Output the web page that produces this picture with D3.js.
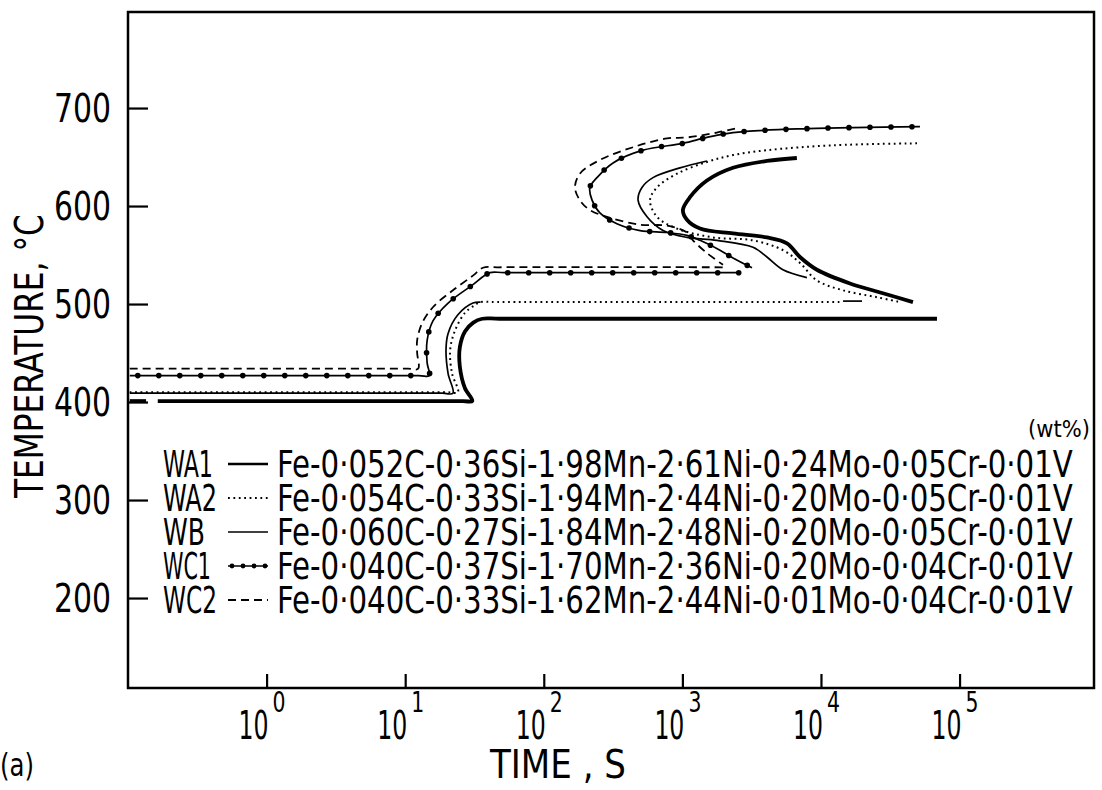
<!DOCTYPE html>
<html>
<head>
<meta charset="utf-8">
<script src="https://cdn.jsdelivr.net/npm/d3@7"></script>
<style>
  body { margin: 0; background: #fff; }
  text { font-family: "DejaVu Sans Condensed", "DejaVu Sans", sans-serif; fill: #000; }
</style>
</head>
<body>
<div id="chart"></div>
<script>
// tick values
var tempTicks = [200, 300, 400, 500, 600, 700];
var timeExponents = [0, 1, 2, 3, 4, 5];

// legend
var alloyNames = ["WA1", "WA2", "WB", "WC1", "WC2"];
var compositions = [
  "Fe-0·052C-0·36Si-1·98Mn-2·61Ni-0·24Mo-0·05Cr-0·01V",
  "Fe-0·054C-0·33Si-1·94Mn-2·44Ni-0·20Mo-0·05Cr-0·01V",
  "Fe-0·060C-0·27Si-1·84Mn-2·48Ni-0·20Mo-0·05Cr-0·01V",
  "Fe-0·040C-0·37Si-1·70Mn-2·36Ni-0·20Mo-0·04Cr-0·01V",
  "Fe-0·040C-0·33Si-1·62Mn-2·44Ni-0·01Mo-0·04Cr-0·01V"
];

// curves: [time s, temperature C]
var wa1Stub = [[0.103, 401], [0.135, 401]];
var wa1Lower = [[0.164, 401], [26, 401], [30.5, 401], [27, 414], [24.8, 436], [24.8, 456], [27, 472], [31, 481], [36, 485], [48, 485], [68700, 485]];
var wa1Upper = [[6700, 649], [4075, 646], [2318, 639], [1504, 626], [1135, 609], [1009, 596], [1079, 586], [1340, 577],
  [2318, 572], [4075, 568], [5683, 562], [7052, 548], [9350, 535], [16190, 521], [28000, 511], [46100, 502]];

var wa2Lower = [[0.103, 410], [20, 410], [24, 410], [21.8, 429], [21.1, 453], [22.9, 473], [27, 491], [31.9, 499], [35, 502], [46, 502], [14430, 502]];
var wa2Upper = [[49300, 664], [12210, 662], [4075, 657], [2318, 652], [1504, 645], [915, 633], [656, 619], [584, 606],
  [656, 589], [915, 577], [1662, 568], [3234, 565], [5318, 555], [7052, 542], [9350, 524], [14430, 514], [25350, 507], [37150, 502]];

var wbLower = [[0.103, 409], [18.5, 409], [22.1, 409], [20.4, 429], [19.7, 453], [20.4, 470], [24, 489], [30.8, 501], [35, 502]];
var wbTail = [[14430, 503], [19770, 503]];
var wbUpper = [[1504, 646], [961, 639], [614, 629], [511, 619], [479, 606], [556, 589], [725, 575], [1079, 568],
  [1777, 565], [3234, 558], [4075, 548], [5318, 535], [7918, 527]];

var wc1Lower = [[0.103, 427], [12.5, 427], [14.9, 427], [14.4, 440], [14.4, 463], [15.9, 483], [20.4, 501], [30.3, 519], [40.9, 532], [52, 532], [2606, 532]];
var wc1Upper = [[51800, 681], [8000, 679], [2318, 675], [1504, 670], [1009, 664], [520, 657], [316, 644], [242, 629], [215, 619],
  [223, 606], [254, 593], [337, 582], [495, 575], [775, 573], [1079, 570], [1340, 565], [1868, 555], [2318, 547], [3180, 537]];

var wc2Lower = [[0.103, 434], [10.5, 434], [12.4, 434], [12.2, 450], [12.2, 463], [13.2, 480], [15.9, 497], [22.1, 514], [30.8, 529], [36.4, 537], [47, 537.5], [1964, 537.5]];
var wc2Upper = [[2397, 679], [1777, 675], [1079, 670], [775, 669], [440, 660], [254, 647], [182, 633], [168, 619], [182, 606],
  [215, 596], [300, 588], [495, 581], [775, 580], [1079, 573], [1192, 565], [1504, 552], [1964, 540]];

var width = 1102, height = 790;
var margin = {top: 12, right: 8, bottom: 102, left: 128};

var svg = d3.select("#chart").append("svg")
  .attr("width", width)
  .attr("height", height);

var x = d3.scaleLog()
  .domain([0.1, Math.pow(10, 5.97)])
  .range([margin.left, width - margin.right]);

var y = d3.scaleLinear()
  .domain([108.2, 798])
  .range([height - margin.bottom, margin.top]);

var line = d3.line()
  .x(function(d) { return x(d[0]); })
  .y(function(d) { return y(d[1]); })
  .curve(d3.curveCatmullRom.alpha(0.5));

// narrow lettering: squeeze a text to a given width
function narrowText(str, x0, y0, size, w, extra) {
  var t = svg.append("text").attr("font-size", size).text(str);
  var n = t.node().getComputedTextLength();
  t.attr("transform", "translate(" + x0 + "," + y0 + ")" + (extra || "") + " scale(" + (w / n) + ",1)");
  return t;
}

// styles per alloy
var styles = {
  WA1: {width: 3.8, dash: null},
  WA2: {width: 2, dash: "1.8,3.6"},
  WB:  {width: 1.7, dash: null},
  WC1: {width: 1.7, dash: null},
  WC2: {width: 1.8, dash: "8,5"}
};

var curves = [
  ["WB", wbLower], ["WB", wbTail], ["WB", wbUpper],
  ["WA2", wa2Lower], ["WA2", wa2Upper],
  ["WA1", wa1Stub], ["WA1", wa1Lower], ["WA1", wa1Upper],
  ["WC2", wc2Lower], ["WC2", wc2Upper],
  ["WC1", wc1Lower], ["WC1", wc1Upper]
];

curves.forEach(function(c) {
  var st = styles[c[0]];
  var p = svg.append("path")
    .attr("d", line(c[1]))
    .attr("fill", "none")
    .attr("stroke", "#000")
    .attr("stroke-width", st.width)
    .attr("stroke-linejoin", "round")
    .attr("stroke-dasharray", st.dash);
  if (c[0] == "WC1") {
    // dot markers along the curve
    var node = p.node();
    var len = node.getTotalLength();
    for (var l = 8; l < len; l += 21) {
      var pt = node.getPointAtLength(l);
      svg.append("circle").attr("cx", pt.x).attr("cy", pt.y).attr("r", 2.8).attr("fill", "#000");
    }
  }
});

// frame
svg.append("rect")
  .attr("x", margin.left).attr("y", margin.top)
  .attr("width", width - margin.right - margin.left)
  .attr("height", height - margin.bottom - margin.top)
  .attr("fill", "none").attr("stroke", "#000").attr("stroke-width", 2.5);

// y axis
var yAxis = svg.append("g")
  .attr("transform", "translate(" + margin.left + ",0)")
  .call(d3.axisLeft(y).tickValues(tempTicks).tickSize(-20).tickFormat(""));
yAxis.select(".domain").remove();
yAxis.selectAll("line").attr("stroke-width", 2.2);

tempTicks.forEach(function(d) {
  narrowText(d, 54, y(d) + 14, 39, 57);
});

// x axis
var xAxis = svg.append("g")
  .attr("transform", "translate(0," + (height - margin.bottom) + ")")
  .call(d3.axisBottom(x).tickValues(timeExponents.map(function(e) { return Math.pow(10, e); })).tickSize(-14).tickFormat(""));
xAxis.select(".domain").remove();
xAxis.selectAll("line").attr("stroke-width", 2.2);

timeExponents.forEach(function(e) {
  var tx = x(Math.pow(10, e));
  narrowText("10", tx - 28, 739, 39, 30);
  narrowText(e, tx + 6, 712, 28, 13);
});

narrowText("TIME , S", 490, 778, 39, 136);
narrowText("(a)", 0, 776, 32, 34);
narrowText("TEMPERATURE, °C", 43, 498, 39, 284, " rotate(-90)");

// legend
narrowText("(wt%)", 1028, 437, 23, 62);

var labelWidths = [50, 54, 42, 48, 54];
alloyNames.forEach(function(name, i) {
  var base = 477 + 34 * i;
  narrowText(name, 163, base, 37, labelWidths[i]);
  var st = styles[name];
  svg.append("line")
    .attr("x1", 228).attr("x2", 268)
    .attr("y1", base - 13).attr("y2", base - 13)
    .attr("stroke", "#000")
    .attr("stroke-width", name == "WA1" ? 2.4 : st.width)
    .attr("stroke-dasharray", st.dash);
  if (name == "WC1") {
    [232, 243, 254, 265].forEach(function(cx) {
      svg.append("circle").attr("cx", cx).attr("cy", base - 13).attr("r", 2.4).attr("fill", "#000");
    });
  }
  narrowText(compositions[i], 277, base, 37, 796);
});
</script>
</body>
</html>
